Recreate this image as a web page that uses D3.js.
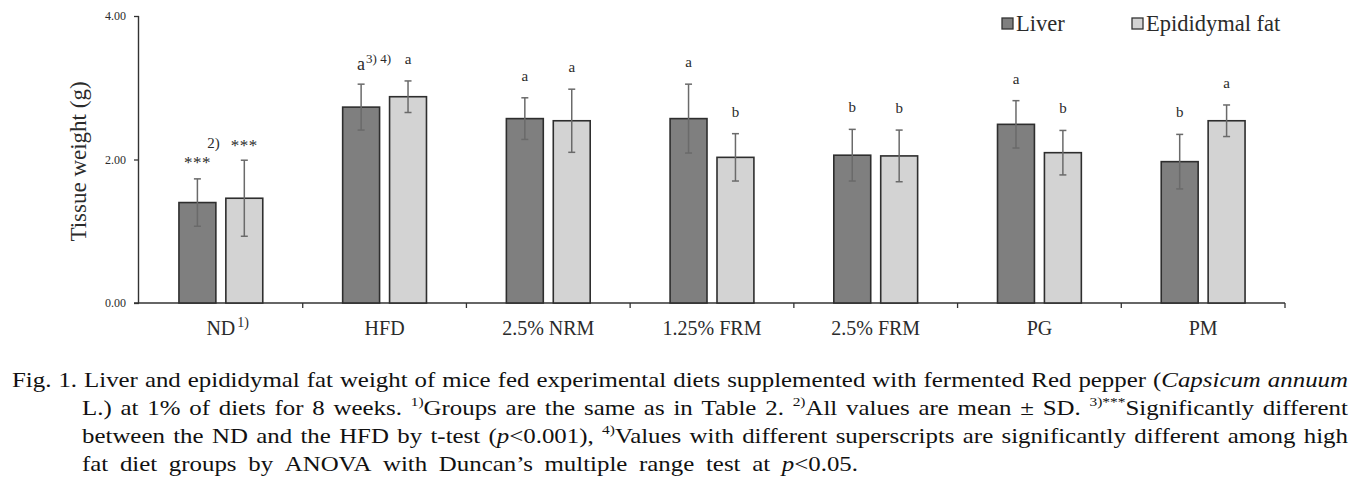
<!DOCTYPE html>
<html>
<head>
<meta charset="utf-8">
<script src="https://cdn.jsdelivr.net/npm/d3@7"></script>
<style>
  html, body { margin: 0; padding: 0; background: #fff; }
  svg { display: block; }
</style>
</head>
<body>
<svg id="chart" width="1367" height="491"></svg>
<script>
// ---------- data ----------
const categories = ["ND", "HFD", "2.5% NRM", "1.25% FRM", "2.5% FRM", "PG", "PM"];
const categorySup = ["1)", "", "", "", "", "", ""];
const seriesNames = ["Liver", "Epididymal fat"];
const liverMean = [1.40, 2.73, 2.57, 2.57, 2.06, 2.49, 1.97];
const liverSD   = [0.33, 0.32, 0.29, 0.48, 0.36, 0.33, 0.38];
const fatMean   = [1.46, 2.875, 2.54, 2.03, 2.05, 2.095, 2.54];
const fatSD     = [0.53, 0.22, 0.44, 0.33, 0.36, 0.31, 0.22];
const liverLabels = ["***", "a", "a", "a", "b", "a", "b"];
const fatLabels   = ["***", "a", "a", "b", "b", "b", "a"];
const liverLabelSup = ["", "3) 4)", "", "", "", "", ""];
const fatLabelPre   = ["2)", "", "", "", "", "", ""];
const yTicks = [0, 2, 4];
const yTickFormat = d3.format(".2f");
const yTitle = "Tissue weight (g)";

const captionLines = [
  ["Fig.", "1.", "Liver", "and", "epididymal", "fat", "weight", "of", "mice", "fed", "experimental", "diets", "supplemented", "with", "fermented", "Red", "pepper", "(_Capsicum_", "_annuum_"],
  ["L.)", "at", "1%", "of", "diets", "for", "8", "weeks.", "^1)^Groups", "are", "the", "same", "as", "in", "Table", "2.", "^2)^All", "values", "are", "mean", "±", "SD.", "^3)***^Significantly", "different"],
  ["between", "the", "ND", "and", "the", "HFD", "by", "t-test", "(_p_<0.001),", "^4)^Values", "with", "different", "superscripts", "are", "significantly", "different", "among", "high"],
  ["fat", "diet", "groups", "by", "ANOVA", "with", "Duncan’s", "multiple", "range", "test", "at", "_p_<0.05."]
];

// ---------- layout ----------
const svg = d3.select("#chart");
const plot = { left: 139, right: 1285, top: 16, bottom: 303 };
const colors = { "Liver": "#7f7f7f", "Epididymal fat": "#d3d3d3" };
const serif = "'Liberation Serif', 'Times New Roman', serif";
const textColor = "#2b2b2b";

const x0 = d3.scaleBand().domain(categories).range([plot.left, plot.right]).paddingInner(0).paddingOuter(0);
const bw = x0.bandwidth();
const x1 = d3.scaleBand().domain(seriesNames).range([bw * 0.244, bw * 0.756]).paddingInner(0.213);
const y = d3.scaleLinear().domain([0, 4]).range([plot.bottom, plot.top]);

const rows = categories.map((c, i) => ({
  cat: c, i,
  bars: [
    { s: "Liver", mean: liverMean[i], sd: liverSD[i], label: liverLabels[i], sup: liverLabelSup[i], pre: "" },
    { s: "Epididymal fat", mean: fatMean[i], sd: fatSD[i], label: fatLabels[i], sup: "", pre: fatLabelPre[i] }
  ]
}));

// ---------- axes ----------
const yAxis = d3.axisLeft(y).tickValues(yTicks).tickFormat(yTickFormat).tickSize(5).tickPadding(8);
const gy = svg.append("g").attr("transform", `translate(${plot.left},0)`).call(yAxis);
gy.select(".domain").attr("stroke", "#333").attr("stroke-width", 1.4).attr("d", `M-0.5,${plot.top}V${plot.bottom}`);
gy.selectAll(".tick line").attr("stroke", "#333").attr("stroke-width", 1.3);
gy.selectAll(".tick text").attr("font-family", serif).attr("font-size", 12).attr("fill", textColor);

// x axis line with category boundary ticks
const gx = svg.append("g").attr("transform", `translate(0,${plot.bottom})`);
gx.append("line").attr("x1", plot.left - 5).attr("x2", plot.right).attr("y1", 0).attr("y2", 0)
  .attr("stroke", "#333").attr("stroke-width", 1.4);
gx.selectAll("line.bt").data(categories).join("line").attr("class", "bt")
  .attr("x1", d => x0(d) + bw).attr("x2", d => x0(d) + bw)
  .attr("y1", 0).attr("y2", 5).attr("stroke", "#333").attr("stroke-width", 1.3);
const catText = gx.selectAll("text.cat").data(categories).join("text").attr("class", "cat")
  .attr("x", d => x0(d) + bw / 2).attr("y", 32)
  .attr("text-anchor", "middle").attr("font-family", serif).attr("font-size", 20).attr("fill", textColor)
  .text(d => d);
catText.each(function (d, i) {
  if (!categorySup[i]) return;
  const w = this.getComputedTextLength();
  gx.append("text").attr("x", x0(d) + bw / 2 + w / 2 + 2).attr("y", 24)
    .attr("font-family", serif).attr("font-size", 14).attr("fill", textColor).text(categorySup[i]);
});

// y title
svg.append("text")
  .attr("transform", `translate(86,${(plot.top + plot.bottom) / 2 + 2}) rotate(-90)`)
  .attr("text-anchor", "middle").attr("font-family", serif).attr("font-size", 23).attr("fill", textColor)
  .text(yTitle);

// ---------- bars ----------
const groups = svg.selectAll("g.grp").data(rows).join("g").attr("class", "grp")
  .attr("transform", d => `translate(${x0(d.cat)},0)`);

groups.selectAll("rect").data(d => d.bars).join("rect")
  .attr("x", d => x1(d.s)).attr("width", x1.bandwidth())
  .attr("y", d => y(d.mean)).attr("height", d => y(0) - y(d.mean))
  .attr("fill", d => colors[d.s]).attr("stroke", "#2e2e2e").attr("stroke-width", 1.6);

// error bars
const eb = groups.selectAll("g.eb").data(d => d.bars).join("g").attr("class", "eb")
  .attr("transform", d => `translate(${x1(d.s) + x1.bandwidth() / 2},0)`);
eb.append("line").attr("x1", 0).attr("x2", 0)
  .attr("y1", d => y(d.mean + d.sd)).attr("y2", d => y(d.mean - d.sd))
  .attr("stroke", "#6a6a6a").attr("stroke-width", 1.5);
eb.append("line").attr("x1", -3.5).attr("x2", 3.5)
  .attr("y1", d => y(d.mean + d.sd)).attr("y2", d => y(d.mean + d.sd))
  .attr("stroke", "#6a6a6a").attr("stroke-width", 1.5);
eb.append("line").attr("x1", -3.5).attr("x2", 3.5)
  .attr("y1", d => y(d.mean - d.sd)).attr("y2", d => y(d.mean - d.sd))
  .attr("stroke", "#6a6a6a").attr("stroke-width", 1.5);

// significance labels
eb.each(function (d) {
  const g = d3.select(this);
  const top = y(d.mean + d.sd);
  const isStars = d.label === "***";
  const big = d.sup !== "";
  const t = g.append("text")
    .attr("x", 0).attr("y", top - (isStars ? (d.s === "Liver" ? 11 : 9) : (big ? 14 : 17)))
    .attr("text-anchor", "middle").attr("font-family", serif)
    .attr("font-size", isStars ? 17 : (big ? 18 : 15)).attr("fill", textColor)
    .attr("letter-spacing", isStars ? 0.5 : 0)
    .text(d.label);
  const w = t.node().getComputedTextLength();
  if (d.sup) {
    g.append("text").attr("x", w / 2 + 1).attr("y", top - 21)
      .attr("font-family", serif).attr("font-size", 13).attr("fill", textColor).text(d.sup);
  }
  if (d.pre) {
    g.append("text").attr("x", -w / 2 - 11).attr("y", top - 12)
      .attr("text-anchor", "end").attr("font-family", serif).attr("font-size", 15).attr("fill", textColor).text(d.pre);
  }
});

// ---------- legend ----------
const legendX = [1002, 1132];
const lg = svg.selectAll("g.lg").data(seriesNames).join("g").attr("class", "lg")
  .attr("transform", (d, i) => `translate(${legendX[i]},18)`);
lg.append("rect").attr("x", 0).attr("y", 0).attr("width", 11).attr("height", 11)
  .attr("fill", d => colors[d]).attr("stroke", "#333").attr("stroke-width", 1.3);
lg.append("text").attr("x", 14).attr("y", 13).attr("font-family", serif).attr("font-size", 22.5)
  .attr("fill", textColor).text(d => d);

// ---------- caption ----------
const capFont = "'Liberation Serif', serif";
const capFs = 21;
const capG = svg.append("g");
function addWord(parent, token, fs) {
  const t = parent.append("text").attr("font-family", capFont).attr("font-size", fs).attr("fill", "#111");
  const parts = token.split(/(\^[^^]*\^|_[^_]*_)/).filter(s => s.length);
  let raised = false;
  parts.forEach(p => {
    if (p.startsWith("^")) {
      t.append("tspan").attr("font-size", fs * 0.62).attr("dy", -fs * 0.42).text(p.slice(1, -1));
      raised = true;
    } else if (p.startsWith("_")) {
      t.append("tspan").attr("font-style", "italic").attr("dy", raised ? fs * 0.42 : 0).text(p.slice(1, -1));
      raised = false;
    } else {
      t.append("tspan").attr("dy", raised ? fs * 0.42 : 0).text(p);
      raised = false;
    }
  });
  return t;
}
const lineStart = [12, 82, 82, 82];
const lineEnd = [1348, 1348, 1348, 858];
const baseY = 387, lineH = 28;
// horizontal stretch so the wider reference face is matched: first line fits with ~0.28em word spaces
let sx = 1;
{
  const words = captionLines[0].map(w => addWord(capG, w, capFs));
  const nat = d3.sum(words, w => w.node().getComputedTextLength()) + capFs * 0.28 * (words.length - 1);
  sx = (lineEnd[0] - lineStart[0]) / nat;
  words.forEach(w => w.remove());
}
capG.attr("transform", `scale(${sx},1)`);
captionLines.forEach((line, li) => {
  const words = line.map(w => addWord(capG, w, capFs));
  const widths = words.map(w => w.node().getComputedTextLength());
  const start = lineStart[li] / sx, end = lineEnd[li] / sx;
  const gap = (end - start - d3.sum(widths)) / (words.length - 1);
  let xx = start;
  words.forEach((w, k) => {
    w.attr("x", xx).attr("y", baseY + li * lineH);
    w.select("tspan").attr("x", xx);
    xx += widths[k] + gap;
  });
});
</script>
</body>
</html>
